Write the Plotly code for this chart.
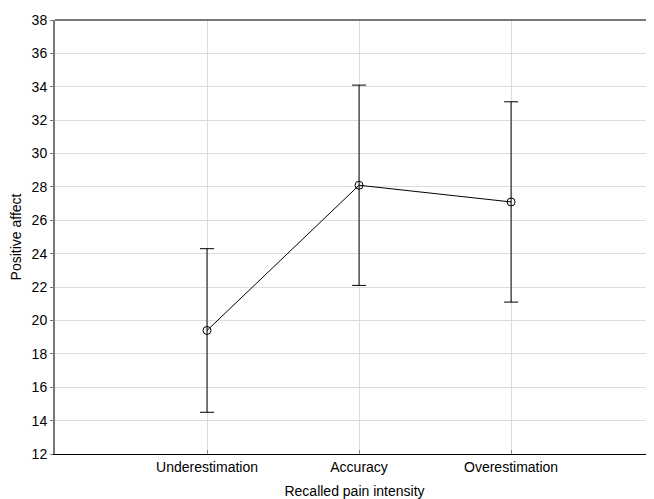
import plotly.graph_objects as go

categories = ["Underestimation", "Accuracy", "Overestimation"]
means = [19.4, 28.1, 27.1]
upper = [24.3, 34.1, 33.1]
lower = [14.5, 22.1, 21.1]

err_plus = [u - m for u, m in zip(upper, means)]
err_minus = [m - l for m, l in zip(means, lower)]
xs = list(range(len(categories)))

fig = go.Figure()
fig.add_trace(go.Scatter(
    x=xs, y=means, mode="lines+markers",
    line=dict(color="black", width=1),
    marker=dict(symbol="circle-open", size=8, color="black", line=dict(width=1, color="black")),
    error_y=dict(type="data", array=err_plus, arrayminus=err_minus, symmetric=False,
                 color="black", thickness=1, width=7),
    showlegend=False,
))

font = dict(family="Liberation Sans, Arial, sans-serif", size=14, color="black")
fig.update_layout(
    width=646, height=491,
    margin=dict(l=47, r=0, t=12, b=45),
    paper_bgcolor="white", plot_bgcolor="white",
    font=font,
    xaxis=dict(
        range=[-1, 2.94], tickmode="array", tickvals=xs, ticktext=categories,
        showgrid=True, gridcolor="#dcdcdc", gridwidth=1,
        showline=True, linecolor="black", linewidth=1,
        ticks="inside", ticklen=4, tickcolor="#888",
        zeroline=False,
        title=dict(text="Recalled pain intensity", standoff=13, font=font),
        tickfont=font,
    ),
    yaxis=dict(
        range=[12, 38], dtick=2, tick0=12,
        showgrid=True, gridcolor="#dcdcdc", gridwidth=1,
        showline=True, linecolor="#777", linewidth=2,
        ticks="outside", ticklen=3, tickcolor="#777",
        zeroline=False,
        title=dict(text="Positive affect", standoff=10, font=font),
        tickfont=font,
    ),
    shapes=[dict(type="line", xref="paper", yref="paper", x0=0, x1=1, y0=1, y1=1,
                 line=dict(color="#777", width=2))],
)

fig.write_html("out.html")
